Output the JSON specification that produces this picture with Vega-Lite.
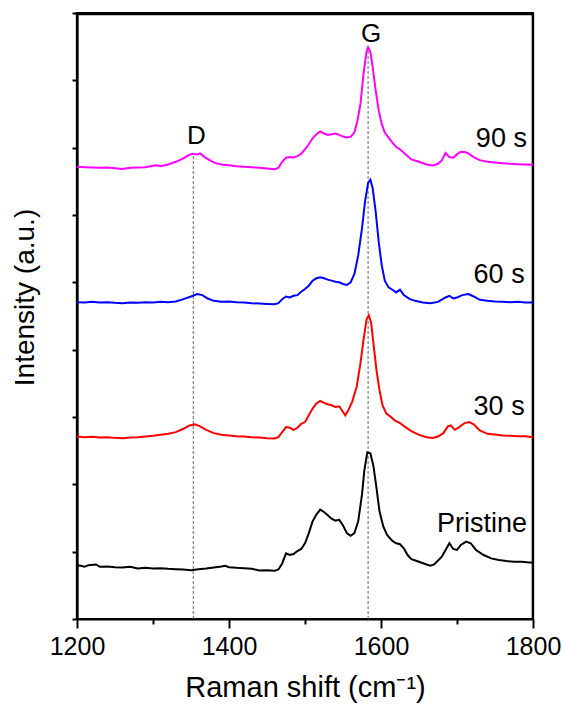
{
  "$schema": "https://vega.github.io/schema/vega-lite/v6.json",
  "autosize": {"type": "none"},
  "width": 456,
  "height": 606,
  "padding": {"left": 77, "top": 13, "right": 31, "bottom": 92},
  "background": "white",
  "config": {
    "font": "Liberation Sans",
    "view": {"stroke": "black", "strokeWidth": 2},
    "axis": {"grid": false, "domainColor": "black", "domainWidth": 2, "tickColor": "black", "tickWidth": 2, "labelColor": "black", "titleColor": "black", "titleFontWeight": "normal"}
  },
  "datasets": {
    "spectra": [
      {"s":"Pristine","x":1200,"y":1.60},{"s":"Pristine","x":1205,"y":1.58},{"s":"Pristine","x":1210,"y":1.55},{"s":"Pristine","x":1215,"y":1.60},{"s":"Pristine","x":1225,"y":1.62},{"s":"Pristine","x":1230,"y":1.55},{"s":"Pristine","x":1240,"y":1.56},{"s":"Pristine","x":1250,"y":1.54},{"s":"Pristine","x":1260,"y":1.53},{"s":"Pristine","x":1270,"y":1.55},{"s":"Pristine","x":1280,"y":1.50},{"s":"Pristine","x":1290,"y":1.52},{"s":"Pristine","x":1300,"y":1.50},{"s":"Pristine","x":1310,"y":1.51},{"s":"Pristine","x":1320,"y":1.49},{"s":"Pristine","x":1330,"y":1.48},{"s":"Pristine","x":1340,"y":1.47},{"s":"Pristine","x":1350,"y":1.45},{"s":"Pristine","x":1360,"y":1.48},{"s":"Pristine","x":1370,"y":1.50},{"s":"Pristine","x":1380,"y":1.53},{"s":"Pristine","x":1390,"y":1.56},{"s":"Pristine","x":1395,"y":1.58},{"s":"Pristine","x":1400,"y":1.54},{"s":"Pristine","x":1410,"y":1.52},{"s":"Pristine","x":1420,"y":1.51},{"s":"Pristine","x":1430,"y":1.49},{"s":"Pristine","x":1440,"y":1.44},{"s":"Pristine","x":1450,"y":1.45},{"s":"Pristine","x":1460,"y":1.43},{"s":"Pristine","x":1465,"y":1.47},{"s":"Pristine","x":1470,"y":1.65},{"s":"Pristine","x":1475,"y":1.95},{"s":"Pristine","x":1480,"y":1.90},{"s":"Pristine","x":1485,"y":1.93},{"s":"Pristine","x":1490,"y":2.02},{"s":"Pristine","x":1495,"y":2.08},{"s":"Pristine","x":1500,"y":2.25},{"s":"Pristine","x":1505,"y":2.55},{"s":"Pristine","x":1510,"y":2.90},{"s":"Pristine","x":1515,"y":3.10},{"s":"Pristine","x":1520,"y":3.25},{"s":"Pristine","x":1525,"y":3.18},{"s":"Pristine","x":1530,"y":3.08},{"s":"Pristine","x":1535,"y":2.98},{"s":"Pristine","x":1540,"y":2.92},{"s":"Pristine","x":1545,"y":2.95},{"s":"Pristine","x":1550,"y":2.78},{"s":"Pristine","x":1555,"y":2.55},{"s":"Pristine","x":1560,"y":2.47},{"s":"Pristine","x":1565,"y":2.55},{"s":"Pristine","x":1570,"y":2.90},{"s":"Pristine","x":1575,"y":3.70},{"s":"Pristine","x":1578,"y":4.40},{"s":"Pristine","x":1582,"y":4.95},{"s":"Pristine","x":1586,"y":4.92},{"s":"Pristine","x":1590,"y":4.55},{"s":"Pristine","x":1594,"y":3.90},{"s":"Pristine","x":1598,"y":3.20},{"s":"Pristine","x":1603,"y":2.75},{"s":"Pristine","x":1608,"y":2.50},{"s":"Pristine","x":1615,"y":2.32},{"s":"Pristine","x":1620,"y":2.25},{"s":"Pristine","x":1625,"y":2.22},{"s":"Pristine","x":1630,"y":2.10},{"s":"Pristine","x":1635,"y":1.90},{"s":"Pristine","x":1640,"y":1.78},{"s":"Pristine","x":1650,"y":1.70},{"s":"Pristine","x":1660,"y":1.62},{"s":"Pristine","x":1665,"y":1.58},{"s":"Pristine","x":1670,"y":1.62},{"s":"Pristine","x":1680,"y":1.85},{"s":"Pristine","x":1685,"y":2.05},{"s":"Pristine","x":1690,"y":2.25},{"s":"Pristine","x":1695,"y":2.08},{"s":"Pristine","x":1700,"y":2.05},{"s":"Pristine","x":1705,"y":2.20},{"s":"Pristine","x":1712,"y":2.30},{"s":"Pristine","x":1718,"y":2.25},{"s":"Pristine","x":1725,"y":2.05},{"s":"Pristine","x":1735,"y":1.90},{"s":"Pristine","x":1745,"y":1.80},{"s":"Pristine","x":1755,"y":1.75},{"s":"Pristine","x":1765,"y":1.72},{"s":"Pristine","x":1775,"y":1.70},{"s":"Pristine","x":1785,"y":1.70},{"s":"Pristine","x":1795,"y":1.68},{"s":"Pristine","x":1800,"y":1.68},

      {"s":"30 s","x":1200,"y":5.42},{"s":"30 s","x":1210,"y":5.40},{"s":"30 s","x":1220,"y":5.41},{"s":"30 s","x":1230,"y":5.39},{"s":"30 s","x":1240,"y":5.40},{"s":"30 s","x":1250,"y":5.38},{"s":"30 s","x":1260,"y":5.37},{"s":"30 s","x":1270,"y":5.39},{"s":"30 s","x":1280,"y":5.40},{"s":"30 s","x":1290,"y":5.42},{"s":"30 s","x":1300,"y":5.44},{"s":"30 s","x":1310,"y":5.47},{"s":"30 s","x":1320,"y":5.50},{"s":"30 s","x":1330,"y":5.55},{"s":"30 s","x":1340,"y":5.65},{"s":"30 s","x":1348,"y":5.75},{"s":"30 s","x":1355,"y":5.78},{"s":"30 s","x":1362,"y":5.72},{"s":"30 s","x":1370,"y":5.62},{"s":"30 s","x":1380,"y":5.52},{"s":"30 s","x":1390,"y":5.47},{"s":"30 s","x":1400,"y":5.45},{"s":"30 s","x":1410,"y":5.43},{"s":"30 s","x":1420,"y":5.42},{"s":"30 s","x":1430,"y":5.40},{"s":"30 s","x":1440,"y":5.39},{"s":"30 s","x":1450,"y":5.37},{"s":"30 s","x":1460,"y":5.36},{"s":"30 s","x":1465,"y":5.40},{"s":"30 s","x":1470,"y":5.55},{"s":"30 s","x":1475,"y":5.70},{"s":"30 s","x":1480,"y":5.68},{"s":"30 s","x":1485,"y":5.62},{"s":"30 s","x":1490,"y":5.68},{"s":"30 s","x":1495,"y":5.80},{"s":"30 s","x":1500,"y":5.85},{"s":"30 s","x":1505,"y":6.05},{"s":"30 s","x":1510,"y":6.25},{"s":"30 s","x":1515,"y":6.40},{"s":"30 s","x":1520,"y":6.48},{"s":"30 s","x":1525,"y":6.42},{"s":"30 s","x":1530,"y":6.38},{"s":"30 s","x":1535,"y":6.35},{"s":"30 s","x":1540,"y":6.30},{"s":"30 s","x":1545,"y":6.32},{"s":"30 s","x":1550,"y":6.15},{"s":"30 s","x":1553,"y":6.05},{"s":"30 s","x":1557,"y":6.20},{"s":"30 s","x":1562,"y":6.45},{"s":"30 s","x":1568,"y":6.90},{"s":"30 s","x":1573,"y":7.60},{"s":"30 s","x":1577,"y":8.30},{"s":"30 s","x":1581,"y":8.90},{"s":"30 s","x":1584,"y":9.02},{"s":"30 s","x":1587,"y":8.80},{"s":"30 s","x":1590,"y":8.20},{"s":"30 s","x":1594,"y":7.40},{"s":"30 s","x":1598,"y":6.80},{"s":"30 s","x":1602,"y":6.35},{"s":"30 s","x":1607,"y":6.10},{"s":"30 s","x":1612,"y":6.02},{"s":"30 s","x":1618,"y":5.90},{"s":"30 s","x":1625,"y":5.82},{"s":"30 s","x":1632,"y":5.70},{"s":"30 s","x":1640,"y":5.58},{"s":"30 s","x":1650,"y":5.47},{"s":"30 s","x":1660,"y":5.40},{"s":"30 s","x":1668,"y":5.38},{"s":"30 s","x":1675,"y":5.42},{"s":"30 s","x":1682,"y":5.52},{"s":"30 s","x":1688,"y":5.72},{"s":"30 s","x":1692,"y":5.75},{"s":"30 s","x":1697,"y":5.62},{"s":"30 s","x":1703,"y":5.70},{"s":"30 s","x":1710,"y":5.82},{"s":"30 s","x":1716,"y":5.85},{"s":"30 s","x":1722,"y":5.78},{"s":"30 s","x":1730,"y":5.60},{"s":"30 s","x":1740,"y":5.50},{"s":"30 s","x":1750,"y":5.48},{"s":"30 s","x":1760,"y":5.45},{"s":"30 s","x":1770,"y":5.44},{"s":"30 s","x":1780,"y":5.43},{"s":"30 s","x":1790,"y":5.43},{"s":"30 s","x":1800,"y":5.40},

      {"s":"60 s","x":1200,"y":9.41},{"s":"60 s","x":1210,"y":9.40},{"s":"60 s","x":1220,"y":9.42},{"s":"60 s","x":1230,"y":9.40},{"s":"60 s","x":1240,"y":9.41},{"s":"60 s","x":1250,"y":9.39},{"s":"60 s","x":1260,"y":9.38},{"s":"60 s","x":1270,"y":9.40},{"s":"60 s","x":1280,"y":9.39},{"s":"60 s","x":1290,"y":9.41},{"s":"60 s","x":1300,"y":9.40},{"s":"60 s","x":1310,"y":9.42},{"s":"60 s","x":1320,"y":9.41},{"s":"60 s","x":1330,"y":9.43},{"s":"60 s","x":1340,"y":9.50},{"s":"60 s","x":1350,"y":9.58},{"s":"60 s","x":1358,"y":9.65},{"s":"60 s","x":1365,"y":9.62},{"s":"60 s","x":1372,"y":9.52},{"s":"60 s","x":1380,"y":9.45},{"s":"60 s","x":1390,"y":9.42},{"s":"60 s","x":1400,"y":9.43},{"s":"60 s","x":1410,"y":9.41},{"s":"60 s","x":1420,"y":9.40},{"s":"60 s","x":1430,"y":9.38},{"s":"60 s","x":1440,"y":9.37},{"s":"60 s","x":1450,"y":9.36},{"s":"60 s","x":1460,"y":9.35},{"s":"60 s","x":1465,"y":9.38},{"s":"60 s","x":1470,"y":9.50},{"s":"60 s","x":1475,"y":9.58},{"s":"60 s","x":1480,"y":9.55},{"s":"60 s","x":1485,"y":9.60},{"s":"60 s","x":1490,"y":9.62},{"s":"60 s","x":1495,"y":9.72},{"s":"60 s","x":1500,"y":9.80},{"s":"60 s","x":1505,"y":9.90},{"s":"60 s","x":1510,"y":10.05},{"s":"60 s","x":1515,"y":10.12},{"s":"60 s","x":1520,"y":10.15},{"s":"60 s","x":1525,"y":10.12},{"s":"60 s","x":1530,"y":10.08},{"s":"60 s","x":1535,"y":10.05},{"s":"60 s","x":1540,"y":10.02},{"s":"60 s","x":1545,"y":10.00},{"s":"60 s","x":1550,"y":9.95},{"s":"60 s","x":1555,"y":9.92},{"s":"60 s","x":1560,"y":10.00},{"s":"60 s","x":1565,"y":10.25},{"s":"60 s","x":1570,"y":10.80},{"s":"60 s","x":1575,"y":11.60},{"s":"60 s","x":1579,"y":12.40},{"s":"60 s","x":1583,"y":12.95},{"s":"60 s","x":1586,"y":13.05},{"s":"60 s","x":1589,"y":12.80},{"s":"60 s","x":1593,"y":12.10},{"s":"60 s","x":1597,"y":11.20},{"s":"60 s","x":1601,"y":10.50},{"s":"60 s","x":1605,"y":10.05},{"s":"60 s","x":1610,"y":9.85},{"s":"60 s","x":1615,"y":9.78},{"s":"60 s","x":1620,"y":9.70},{"s":"60 s","x":1625,"y":9.78},{"s":"60 s","x":1630,"y":9.62},{"s":"60 s","x":1638,"y":9.50},{"s":"60 s","x":1645,"y":9.45},{"s":"60 s","x":1655,"y":9.40},{"s":"60 s","x":1665,"y":9.38},{"s":"60 s","x":1675,"y":9.42},{"s":"60 s","x":1685,"y":9.55},{"s":"60 s","x":1690,"y":9.60},{"s":"60 s","x":1695,"y":9.52},{"s":"60 s","x":1700,"y":9.55},{"s":"60 s","x":1707,"y":9.62},{"s":"60 s","x":1715,"y":9.65},{"s":"60 s","x":1722,"y":9.58},{"s":"60 s","x":1730,"y":9.48},{"s":"60 s","x":1740,"y":9.45},{"s":"60 s","x":1750,"y":9.43},{"s":"60 s","x":1760,"y":9.42},{"s":"60 s","x":1770,"y":9.41},{"s":"60 s","x":1780,"y":9.42},{"s":"60 s","x":1790,"y":9.40},{"s":"60 s","x":1800,"y":9.40},

      {"s":"90 s","x":1200,"y":13.43},{"s":"90 s","x":1210,"y":13.42},{"s":"90 s","x":1220,"y":13.41},{"s":"90 s","x":1230,"y":13.40},{"s":"90 s","x":1240,"y":13.41},{"s":"90 s","x":1250,"y":13.39},{"s":"90 s","x":1260,"y":13.37},{"s":"90 s","x":1270,"y":13.40},{"s":"90 s","x":1280,"y":13.41},{"s":"90 s","x":1290,"y":13.42},{"s":"90 s","x":1300,"y":13.46},{"s":"90 s","x":1305,"y":13.48},{"s":"90 s","x":1310,"y":13.45},{"s":"90 s","x":1320,"y":13.50},{"s":"90 s","x":1330,"y":13.58},{"s":"90 s","x":1340,"y":13.68},{"s":"90 s","x":1347,"y":13.78},{"s":"90 s","x":1352,"y":13.82},{"s":"90 s","x":1358,"y":13.80},{"s":"90 s","x":1362,"y":13.83},{"s":"90 s","x":1368,"y":13.72},{"s":"90 s","x":1375,"y":13.62},{"s":"90 s","x":1382,"y":13.54},{"s":"90 s","x":1390,"y":13.50},{"s":"90 s","x":1400,"y":13.48},{"s":"90 s","x":1410,"y":13.45},{"s":"90 s","x":1420,"y":13.43},{"s":"90 s","x":1430,"y":13.42},{"s":"90 s","x":1440,"y":13.40},{"s":"90 s","x":1450,"y":13.38},{"s":"90 s","x":1460,"y":13.36},{"s":"90 s","x":1465,"y":13.40},{"s":"90 s","x":1470,"y":13.58},{"s":"90 s","x":1475,"y":13.70},{"s":"90 s","x":1480,"y":13.72},{"s":"90 s","x":1485,"y":13.71},{"s":"90 s","x":1490,"y":13.75},{"s":"90 s","x":1495,"y":13.82},{"s":"90 s","x":1500,"y":13.95},{"s":"90 s","x":1505,"y":14.10},{"s":"90 s","x":1510,"y":14.28},{"s":"90 s","x":1515,"y":14.40},{"s":"90 s","x":1520,"y":14.48},{"s":"90 s","x":1525,"y":14.42},{"s":"90 s","x":1530,"y":14.38},{"s":"90 s","x":1535,"y":14.40},{"s":"90 s","x":1540,"y":14.42},{"s":"90 s","x":1545,"y":14.38},{"s":"90 s","x":1550,"y":14.33},{"s":"90 s","x":1555,"y":14.30},{"s":"90 s","x":1560,"y":14.32},{"s":"90 s","x":1565,"y":14.45},{"s":"90 s","x":1569,"y":14.80},{"s":"90 s","x":1573,"y":15.30},{"s":"90 s","x":1577,"y":16.20},{"s":"90 s","x":1581,"y":16.85},{"s":"90 s","x":1583,"y":16.98},{"s":"90 s","x":1586,"y":16.85},{"s":"90 s","x":1589,"y":16.40},{"s":"90 s","x":1593,"y":15.70},{"s":"90 s","x":1597,"y":15.10},{"s":"90 s","x":1601,"y":14.70},{"s":"90 s","x":1605,"y":14.45},{"s":"90 s","x":1610,"y":14.30},{"s":"90 s","x":1615,"y":14.15},{"s":"90 s","x":1620,"y":14.02},{"s":"90 s","x":1625,"y":13.95},{"s":"90 s","x":1630,"y":13.85},{"s":"90 s","x":1640,"y":13.65},{"s":"90 s","x":1650,"y":13.58},{"s":"90 s","x":1660,"y":13.50},{"s":"90 s","x":1668,"y":13.47},{"s":"90 s","x":1675,"y":13.52},{"s":"90 s","x":1680,"y":13.62},{"s":"90 s","x":1685,"y":13.84},{"s":"90 s","x":1690,"y":13.72},{"s":"90 s","x":1695,"y":13.70},{"s":"90 s","x":1700,"y":13.80},{"s":"90 s","x":1705,"y":13.88},{"s":"90 s","x":1710,"y":13.87},{"s":"90 s","x":1715,"y":13.83},{"s":"90 s","x":1722,"y":13.72},{"s":"90 s","x":1730,"y":13.63},{"s":"90 s","x":1740,"y":13.58},{"s":"90 s","x":1750,"y":13.56},{"s":"90 s","x":1760,"y":13.54},{"s":"90 s","x":1770,"y":13.52},{"s":"90 s","x":1780,"y":13.51},{"s":"90 s","x":1790,"y":13.50},{"s":"90 s","x":1800,"y":13.49}
    ],
    "frametop": [
      {"x": 1200, "x2": 1800, "y": 17.97}
    ],
    "frameside": [
      {"x": 1799.9, "y": 0, "y2": 18},
      {"x": 1200.1, "y": 0, "y2": 18}
    ],
    "guides": [
      {"band": "D", "x": 1353, "y": 0, "y2": 13.82},
      {"band": "G", "x": 1583, "y": 0, "y2": 16.98}
    ],
    "peaklabels": [
      {"text": "G", "x": 1587, "y": 17.13},
      {"text": "D", "x": 1357, "y": 14.11}
    ],
    "serieslabels": [
      {"text": "90 s", "x": 1792, "y": 14.03},
      {"text": "60 s", "x": 1789, "y": 9.98},
      {"text": "30 s", "x": 1789, "y": 6.06},
      {"text": "Pristine", "x": 1792, "y": 2.58}
    ]
  },
  "layer": [
    {
      "data": {"name": "guides"},
      "mark": {"type": "rule", "color": "#666666", "strokeWidth": 1, "strokeDash": [3, 2]},
      "encoding": {
        "x": {"field": "x", "type": "quantitative"},
        "y": {"field": "y", "type": "quantitative"},
        "y2": {"field": "y2"}
      }
    },
    {
      "data": {"name": "frametop"},
      "mark": {"type": "rule", "color": "#000000", "strokeWidth": 2.5},
      "encoding": {
        "x": {"field": "x", "type": "quantitative"},
        "x2": {"field": "x2"},
        "y": {"field": "y", "type": "quantitative"}
      }
    },
    {
      "data": {"name": "frameside"},
      "mark": {"type": "rule", "color": "#000000", "strokeWidth": 2.5},
      "encoding": {
        "x": {"field": "x", "type": "quantitative"},
        "y": {"field": "y", "type": "quantitative"},
        "y2": {"field": "y2"}
      }
    },
    {
      "data": {"name": "spectra"},
      "mark": {"type": "line", "strokeWidth": 2, "clip": true},
      "encoding": {
        "x": {
          "field": "x", "type": "quantitative",
          "scale": {"domain": [1200, 1800], "nice": false, "zero": false},
          "axis": {
            "title": "Raman shift (cm⁻¹)",
            "titleFontSize": 29,
            "titleX": 228,
            "titleY": 77,
            "titleBaseline": "alphabetic",
            "titleAlign": "center",
            "values": [1200, 1300, 1400, 1500, 1600, 1700, 1800],
            "labelExpr": "datum.value % 200 === 0 ? datum.label : ''",
            "labelFontSize": 25,
            "labelFlush": false,
            "labelOverlap": false,
            "labelPadding": 6,
            "tickSize": {"condition": {"test": "datum.value % 200 === 0", "value": 9}, "value": 5},
            "format": "d"
          }
        },
        "y": {
          "field": "y", "type": "quantitative",
          "scale": {"domain": [0, 18], "nice": false, "zero": false},
          "axis": {
            "title": "Intensity (a.u.)",
            "titleFontSize": 28,
            "titleAngle": -90,
            "titleX": -44,
            "titleY": 284,
            "titleBaseline": "alphabetic",
            "titleAlign": "center",
            "values": [0, 1, 2, 3, 4, 5, 6, 7, 8, 9, 10, 11, 12, 13, 14, 15, 16, 17, 18],
            "labels": false,
            "tickSize": {"condition": {"test": "datum.value % 2 === 1", "value": 9}, "value": 5}
          }
        },
        "color": {
          "field": "s", "type": "nominal",
          "scale": {"domain": ["Pristine", "30 s", "60 s", "90 s"], "range": ["#000000", "#ff0000", "#0000ff", "#ff00ff"]},
          "legend": null
        },
        "detail": {"field": "s"}
      }
    },
    {
      "data": {"name": "peaklabels"},
      "mark": {"type": "text", "fontSize": 26, "color": "black", "baseline": "alphabetic", "align": "center"},
      "encoding": {
        "x": {"field": "x", "type": "quantitative"},
        "y": {"field": "y", "type": "quantitative"},
        "text": {"field": "text"}
      }
    },
    {
      "data": {"name": "serieslabels"},
      "mark": {"type": "text", "fontSize": 27, "color": "black", "baseline": "alphabetic", "align": "right"},
      "encoding": {
        "x": {"field": "x", "type": "quantitative"},
        "y": {"field": "y", "type": "quantitative"},
        "text": {"field": "text"}
      }
    }
  ]
}
